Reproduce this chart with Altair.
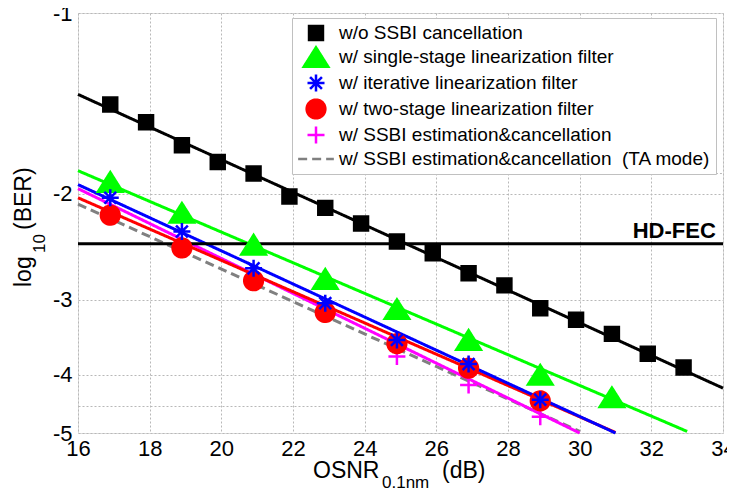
import altair as alt
import pandas as pd

FONT = "Liberation Sans"

SERIES = [
    "w/o SSBI cancellation",
    "w/ single-stage linearization filter",
    "w/ iterative linearization filter",
    "w/ two-stage linearization filter",
    "w/ SSBI estimation&cancellation",
    "w/ SSBI estimation&cancellation\u00a0 (TA mode)",
]
STROKES = ["#000000", "#00ff00", "#0000ff", "#ff0000", "#ff00ff", "#808080"]
FILLS = ["#000000", "#00ff00", "transparent", "#ff0000", "transparent", "transparent"]
SHAPES = [
    "M-0.82,-0.82L0.82,-0.82L0.82,0.82L-0.82,0.82Z",
    "M0,-1.15L1.45,1.15L-1.45,1.15Z",
    "M-1,0L1,0M0,-1L0,1M-0.7,-0.7L0.7,0.7M-0.7,0.7L0.7,-0.7",
    "M-1.1,0A1.1,1.1,0,1,1,1.1,0A1.1,1.1,0,1,1,-1.1,0Z",
    "M-1,0L1,0M0,-1L0,1",
    "M-2.1,0L2.1,0",
]
DASHES = [[1, 0], [1, 0], [1, 0], [1, 0], [1, 0], [9, 5]]

# measured points (OSNR in dB, log10(BER))
osnr_wo = [16.9, 17.9, 18.9, 19.9, 20.9, 21.9, 22.9, 23.9, 24.9, 25.9, 26.9,
           27.9, 28.9, 29.9, 30.9, 31.9, 32.9]
ber_wo = [-1.42, -1.52, -1.66, -1.77, -1.85, -2.02, -2.11, -2.24, -2.40, -2.51,
          -2.71, -2.84, -3.10, -3.24, -3.42, -3.69, -3.89]
osnr_single = [16.9, 18.9, 20.9, 22.9, 24.9, 26.9, 28.9, 30.9]
ber_single = [-1.91, -2.15, -2.43, -2.77, -3.11, -3.50, -4.00, -4.36]
osnr_iter = [16.9, 18.9, 20.9, 22.9, 24.9, 26.9, 28.9]
ber_iter = [-2.03, -2.31, -2.66, -3.04, -3.50, -3.84, -4.40]
osnr_two = [16.9, 18.9, 20.9, 22.9, 24.9, 26.9, 28.9]
ber_two = [-2.17, -2.46, -2.79, -3.15, -3.55, -3.90, -4.42]
osnr_est = [16.9, 18.9, 20.9, 22.9, 24.9, 26.9, 28.9]
ber_est = [-2.14, -2.44, -2.78, -3.16, -3.73, -4.16, -4.70]

# fitted straight lines (end points)
fit_osnr = {
    0: [16, 34], 1: [16, 33], 2: [16, 31], 3: [16, 31], 4: [16, 30], 5: [16, 30],
}
fit_ber = {
    0: [-1.366, -4.21], 1: [-1.83, -4.97], 2: [-1.93, -5.0], 3: [-2.03, -4.99],
    4: [-1.96, -5.0], 5: [-2.08, -4.97],
}
LINE_ORDER = [5, 4, 3, 2, 1, 0]

HD_FEC = -2.42
hd_label = ["HD-FEC"]

x_ticks = [16, 18, 20, 22, 24, 26, 28, 30, 32, 34]
y_ticks = [-1, -2, -3, -4, -4.5, -5]
# faint dotted line just below the legend box
under_legend_x = [21.97]
under_legend_x2 = [34]
under_legend_y = [-1.85]

# ---- tables ----
pts_rows = []
for idx, (xs, ys) in [(0, (osnr_wo, ber_wo)), (1, (osnr_single, ber_single)),
                      (4, (osnr_est, ber_est)), (3, (osnr_two, ber_two)),
                      (2, (osnr_iter, ber_iter))]:
    for xv, yv in zip(xs, ys):
        pts_rows.append({"series": SERIES[idx], "osnr": xv, "ber": yv})
pts = pd.DataFrame(pts_rows)

line_rows = []
for idx in LINE_ORDER:
    for xv, yv in zip(fit_osnr[idx], fit_ber[idx]):
        line_rows.append({"series": SERIES[idx], "osnr": xv, "ber": yv})
lines = pd.DataFrame(line_rows)

xscale = alt.Scale(domain=[16, 34], nice=False, zero=False)
yscale = alt.Scale(type="log", domain=[-5, -1], nice=False)

X = alt.X("osnr:Q", scale=xscale,
          axis=alt.Axis(values=x_ticks, title=None, grid=True, ticks=False, domain=False,
                        labelFontSize=22, labelPadding=5, labelFlush=False,
                        labelFont=FONT, labelColor="black",
                        gridColor="#b8b8b8", gridDash=[2, 2], gridWidth=1))
Y = alt.Y("ber:Q", scale=yscale,
          axis=alt.Axis(values=y_ticks, title=None, grid=True, ticks=False, domain=False,
                        labelFontSize=22, labelPadding=6, labelFont=FONT,
                        labelColor="black", labelFlush=False, labelOverlap=False,
                        labelExpr="datum.value % 1 == 0 ? '-' + abs(datum.value) : ''",
                        gridColor="#b8b8b8", gridDash=[2, 2], gridWidth=1))

legend = alt.Legend(title=None, orient="none", legendX=214, legendY=5,
                    labelFont=FONT, labelFontSize=19, labelColor="black", labelLimit=600,
                    labelExpr="datum.label + '\u00a0\u00a0'",
                    symbolSize=289, symbolStrokeWidth=2.5, padding=5, rowPadding=-3,
                    symbolOffset=9, labelOffset=13,
                    strokeColor="#c0c0c0", fillColor="white")

stroke_scale = alt.Scale(domain=SERIES, range=STROKES)
dash_scale = alt.Scale(domain=SERIES, range=DASHES)

line_layer = alt.Chart(lines).mark_line(strokeWidth=3).encode(
    x=X, y=Y,
    stroke=alt.Stroke("series:N", scale=stroke_scale, legend=legend),
    strokeDash=alt.StrokeDash("series:N", scale=dash_scale, legend=legend),
    detail="series:N",
)

ul_df = pd.DataFrame({"osnr": under_legend_x, "osnr2": under_legend_x2, "ber": under_legend_y})
ul_rule = alt.Chart(ul_df).mark_rule(color="#b8b8b8", strokeWidth=1, strokeDash=[2, 2]).encode(
    x=X, x2="osnr2:Q", y=Y)

hd_df = pd.DataFrame({"ber": [HD_FEC], "osnr": [33.8], "label": hd_label})
hd_rule = alt.Chart(hd_df).mark_rule(color="black", strokeWidth=3).encode(y=Y)
hd_text = alt.Chart(hd_df).mark_text(font=FONT, fontSize=22, fontWeight="bold",
                                     align="right", baseline="alphabetic", dy=-6,
                                     color="black").encode(x=X, y=Y, text="label:N")

pt_layer = alt.Chart(pts).mark_point(filled=True, opacity=1, strokeWidth=2.5, size=289).encode(
    x=X, y=Y,
    fill=alt.Fill("series:N", scale=alt.Scale(domain=SERIES, range=FILLS), legend=legend),
    stroke=alt.Stroke("series:N", scale=stroke_scale, legend=legend),
    shape=alt.Shape("series:N", scale=alt.Scale(domain=SERIES, range=SHAPES), legend=legend),
    strokeDash=alt.StrokeDash("series:N", scale=dash_scale, legend=legend),
)

def label(txt, x, y, size, angle=0):
    return alt.Chart(pd.DataFrame({"t": [txt]})).mark_text(
        font=FONT, fontSize=size, align="left", baseline="alphabetic",
        angle=angle, color="black").encode(
        x=alt.value(x), y=alt.value(y), text="t:N")

x_title = [label("OSNR", 235, 465, 23), label("0.1nm", 304, 475, 17), label("(dB)", 364, 465, 23)]
y_title = [label("log", -47, 274, 23, 270), label("10", -33, 240, 17, 270),
           label("(BER)", -47, 217, 23, 270)]

chart = alt.layer(ul_rule, line_layer, hd_rule, pt_layer, hd_text, *x_title, *y_title).properties(
    width=645, height=420,
    autosize=alt.AutoSizeParams(type="none"),
    padding={"left": 70, "top": 5, "right": 4, "bottom": 59},
).configure_view(stroke="#b0b0b0", strokeWidth=1.2).configure(background="white")

chart.save("out.html", embed_options={"renderer": "svg", "actions": False})
